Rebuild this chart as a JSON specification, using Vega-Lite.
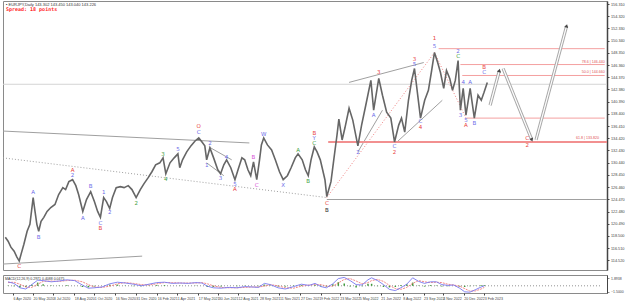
{
  "$schema": "https://vega.github.io/schema/vega-lite/v6.json",
  "padding": 0,
  "background": "white",
  "spacing": 3,
  "config": {
    "view": {"stroke": "#8a8a8a", "strokeWidth": 1},
    "font": "Liberation Sans",
    "axis": {"labelFont": "Liberation Sans"}
  },
  "datasets": {
    "price": [
      {"date": "2020-03-31", "price": 118.29}, {"date": "2020-04-06", "price": 117.64}, {"date": "2020-04-12", "price": 116.67},
      {"date": "2020-04-19", "price": 116.02}, {"date": "2020-04-25", "price": 115.05}, {"date": "2020-04-30", "price": 114.41},
      {"date": "2020-05-04", "price": 115.54}, {"date": "2020-05-10", "price": 117.16}, {"date": "2020-05-17", "price": 119.26},
      {"date": "2020-05-23", "price": 120.39}, {"date": "2020-05-30", "price": 124.76}, {"date": "2020-06-03", "price": 122.50},
      {"date": "2020-06-07", "price": 120.39}, {"date": "2020-06-11", "price": 119.26}, {"date": "2020-06-16", "price": 120.88},
      {"date": "2020-06-22", "price": 121.53}, {"date": "2020-06-29", "price": 122.50}, {"date": "2020-07-07", "price": 123.14},
      {"date": "2020-07-16", "price": 123.63}, {"date": "2020-07-24", "price": 125.25}, {"date": "2020-08-02", "price": 126.38},
      {"date": "2020-08-08", "price": 126.06}, {"date": "2020-08-15", "price": 127.35}, {"date": "2020-08-23", "price": 127.67},
      {"date": "2020-08-30", "price": 126.70}, {"date": "2020-09-05", "price": 125.25}, {"date": "2020-09-14", "price": 122.50},
      {"date": "2020-09-22", "price": 124.44}, {"date": "2020-10-01", "price": 125.73}, {"date": "2020-10-09", "price": 124.11},
      {"date": "2020-10-16", "price": 122.50}, {"date": "2020-10-22", "price": 121.53}, {"date": "2020-10-29", "price": 124.76},
      {"date": "2020-11-04", "price": 124.11}, {"date": "2020-11-11", "price": 122.98}, {"date": "2020-11-17", "price": 124.76},
      {"date": "2020-11-25", "price": 126.38}, {"date": "2020-12-04", "price": 126.54}, {"date": "2020-12-12", "price": 126.38},
      {"date": "2020-12-21", "price": 126.70}, {"date": "2020-12-29", "price": 126.06}, {"date": "2021-01-07", "price": 124.76},
      {"date": "2021-01-16", "price": 126.06}, {"date": "2021-01-24", "price": 127.03}, {"date": "2021-02-02", "price": 128.00},
      {"date": "2021-02-10", "price": 128.97}, {"date": "2021-02-18", "price": 130.10}, {"date": "2021-02-27", "price": 130.42},
      {"date": "2021-03-06", "price": 131.23}, {"date": "2021-03-12", "price": 128.64}, {"date": "2021-03-21", "price": 130.42},
      {"date": "2021-03-30", "price": 131.23}, {"date": "2021-04-07", "price": 131.88}, {"date": "2021-04-11", "price": 129.62},
      {"date": "2021-04-17", "price": 130.91}, {"date": "2021-04-26", "price": 132.20}, {"date": "2021-05-05", "price": 133.18},
      {"date": "2021-05-14", "price": 133.98}, {"date": "2021-05-22", "price": 134.47}, {"date": "2021-05-29", "price": 133.82},
      {"date": "2021-06-04", "price": 133.18}, {"date": "2021-06-08", "price": 130.91}, {"date": "2021-06-15", "price": 132.85},
      {"date": "2021-06-23", "price": 131.23}, {"date": "2021-07-02", "price": 129.29}, {"date": "2021-07-08", "price": 128.64},
      {"date": "2021-07-15", "price": 130.10}, {"date": "2021-07-21", "price": 130.91}, {"date": "2021-07-30", "price": 129.62},
      {"date": "2021-08-08", "price": 127.67}, {"date": "2021-08-16", "price": 129.62}, {"date": "2021-08-23", "price": 131.23},
      {"date": "2021-08-29", "price": 130.91}, {"date": "2021-09-05", "price": 129.29}, {"date": "2021-09-11", "price": 128.32},
      {"date": "2021-09-17", "price": 130.59}, {"date": "2021-09-24", "price": 127.67}, {"date": "2021-09-30", "price": 130.91},
      {"date": "2021-10-04", "price": 133.34}, {"date": "2021-10-09", "price": 134.47}, {"date": "2021-10-17", "price": 133.34},
      {"date": "2021-10-26", "price": 132.53}, {"date": "2021-11-03", "price": 130.91}, {"date": "2021-11-12", "price": 128.97},
      {"date": "2021-11-20", "price": 127.67}, {"date": "2021-11-29", "price": 128.32}, {"date": "2021-12-07", "price": 129.62},
      {"date": "2021-12-16", "price": 131.23}, {"date": "2021-12-22", "price": 131.88}, {"date": "2021-12-31", "price": 130.91},
      {"date": "2022-01-07", "price": 129.29}, {"date": "2022-01-13", "price": 128.32}, {"date": "2022-01-19", "price": 130.91},
      {"date": "2022-01-26", "price": 133.01}, {"date": "2022-02-01", "price": 132.20}, {"date": "2022-02-08", "price": 130.91},
      {"date": "2022-02-14", "price": 128.97}, {"date": "2022-02-18", "price": 127.67}, {"date": "2022-02-22", "price": 124.92},
      {"date": "2022-03-03", "price": 127.35}, {"date": "2022-03-09", "price": 130.91}, {"date": "2022-03-16", "price": 134.96},
      {"date": "2022-03-20", "price": 137.54}, {"date": "2022-03-27", "price": 134.15}, {"date": "2022-04-02", "price": 136.09},
      {"date": "2022-04-11", "price": 139.32}, {"date": "2022-04-19", "price": 137.38}, {"date": "2022-04-30", "price": 133.18},
      {"date": "2022-05-08", "price": 136.57}, {"date": "2022-05-17", "price": 139.81}, {"date": "2022-05-28", "price": 143.85},
      {"date": "2022-06-03", "price": 139.00}, {"date": "2022-06-14", "price": 144.18}, {"date": "2022-06-22", "price": 141.43},
      {"date": "2022-07-01", "price": 138.68}, {"date": "2022-07-10", "price": 137.71}, {"date": "2022-07-18", "price": 133.82},
      {"date": "2022-07-27", "price": 136.57}, {"date": "2022-08-02", "price": 137.71}, {"date": "2022-08-09", "price": 135.44},
      {"date": "2022-08-17", "price": 140.62}, {"date": "2022-08-24", "price": 143.85}, {"date": "2022-08-30", "price": 145.80},
      {"date": "2022-09-06", "price": 141.43}, {"date": "2022-09-12", "price": 137.71}, {"date": "2022-09-21", "price": 140.62},
      {"date": "2022-09-29", "price": 142.24}, {"date": "2022-10-06", "price": 145.47}, {"date": "2022-10-12", "price": 148.39},
      {"date": "2022-10-19", "price": 146.77}, {"date": "2022-10-25", "price": 145.15}, {"date": "2022-11-01", "price": 142.56},
      {"date": "2022-11-07", "price": 145.47}, {"date": "2022-11-14", "price": 144.18}, {"date": "2022-11-20", "price": 142.24},
      {"date": "2022-11-26", "price": 143.85}, {"date": "2022-12-02", "price": 147.09}, {"date": "2022-12-07", "price": 139.00},
      {"date": "2022-12-13", "price": 142.56}, {"date": "2022-12-19", "price": 138.19}, {"date": "2022-12-28", "price": 142.56},
      {"date": "2023-01-06", "price": 137.71}, {"date": "2023-01-14", "price": 141.43}, {"date": "2023-01-21", "price": 140.62},
      {"date": "2023-01-27", "price": 141.91}, {"date": "2023-02-03", "price": 143.53}
    ],
    "macd": [
      {"date": "2020-03-26", "main": 1.0, "signal": 0.8, "hist": 0.1}, {"date": "2020-04-08", "main": 0.6, "signal": 0.9, "hist": -0.1},
      {"date": "2020-04-21", "main": -0.5, "signal": 0.4, "hist": -0.4}, {"date": "2020-05-04", "main": -0.8, "signal": -0.3, "hist": -0.3},
      {"date": "2020-05-17", "main": 0.3, "signal": -0.4, "hist": 0.3}, {"date": "2020-05-30", "main": 1.4, "signal": 0.4, "hist": 0.8},
      {"date": "2020-06-11", "main": 1.3, "signal": 1.1, "hist": 0.4}, {"date": "2020-06-29", "main": 1.0, "signal": 1.2, "hist": 0.1},
      {"date": "2020-07-16", "main": 1.2, "signal": 1.1, "hist": 0.1}, {"date": "2020-08-02", "main": 1.5, "signal": 1.3, "hist": 0.2},
      {"date": "2020-08-19", "main": 1.3, "signal": 1.4, "hist": 0.0}, {"date": "2020-09-05", "main": 0.2, "signal": 1.0, "hist": -0.3},
      {"date": "2020-09-18", "main": -0.6, "signal": 0.3, "hist": -0.4}, {"date": "2020-10-01", "main": -0.5, "signal": -0.3, "hist": -0.2},
      {"date": "2020-10-18", "main": -0.3, "signal": -0.4, "hist": 0.0}, {"date": "2020-11-04", "main": 0.5, "signal": -0.1, "hist": 0.3},
      {"date": "2020-11-21", "main": 0.9, "signal": 0.5, "hist": 0.3}, {"date": "2020-12-08", "main": 0.7, "signal": 0.8, "hist": 0.1},
      {"date": "2020-12-26", "main": 0.4, "signal": 0.6, "hist": -0.1}, {"date": "2021-01-12", "main": 0.0, "signal": 0.3, "hist": -0.1},
      {"date": "2021-01-29", "main": 0.4, "signal": 0.2, "hist": 0.1}, {"date": "2021-02-15", "main": 0.8, "signal": 0.5, "hist": 0.2},
      {"date": "2021-03-04", "main": 0.9, "signal": 0.8, "hist": 0.2}, {"date": "2021-03-21", "main": 0.6, "signal": 0.8, "hist": 0.0},
      {"date": "2021-04-07", "main": 0.7, "signal": 0.7, "hist": 0.1}, {"date": "2021-04-25", "main": 0.6, "signal": 0.7, "hist": 0.0},
      {"date": "2021-05-12", "main": 0.8, "signal": 0.7, "hist": 0.1}, {"date": "2021-05-25", "main": 0.7, "signal": 0.8, "hist": 0.0},
      {"date": "2021-06-06", "main": -0.1, "signal": 0.5, "hist": -0.3}, {"date": "2021-06-19", "main": -0.5, "signal": 0.0, "hist": -0.3},
      {"date": "2021-07-06", "main": -0.6, "signal": -0.4, "hist": -0.2}, {"date": "2021-07-24", "main": -0.4, "signal": -0.5, "hist": 0.0},
      {"date": "2021-08-10", "main": -0.5, "signal": -0.5, "hist": -0.1}, {"date": "2021-08-27", "main": -0.2, "signal": -0.4, "hist": 0.1},
      {"date": "2021-09-13", "main": -0.3, "signal": -0.3, "hist": 0.0}, {"date": "2021-09-26", "main": -0.4, "signal": -0.3, "hist": -0.1},
      {"date": "2021-10-09", "main": 0.6, "signal": -0.1, "hist": 0.3}, {"date": "2021-10-22", "main": 0.3, "signal": 0.3, "hist": 0.1},
      {"date": "2021-11-08", "main": -0.5, "signal": 0.0, "hist": -0.2}, {"date": "2021-11-24", "main": -0.8, "signal": -0.5, "hist": -0.2},
      {"date": "2021-12-12", "main": -0.2, "signal": -0.6, "hist": 0.1}, {"date": "2021-12-29", "main": 0.4, "signal": -0.1, "hist": 0.2},
      {"date": "2022-01-15", "main": 0.1, "signal": 0.2, "hist": 0.0}, {"date": "2022-01-28", "main": 0.6, "signal": 0.3, "hist": 0.2},
      {"date": "2022-02-10", "main": -0.2, "signal": 0.3, "hist": -0.2}, {"date": "2022-02-22", "main": -0.5, "signal": -0.1, "hist": -0.2},
      {"date": "2022-03-08", "main": 0.5, "signal": -0.1, "hist": 0.4}, {"date": "2022-03-20", "main": 1.8, "signal": 0.7, "hist": 0.9},
      {"date": "2022-04-02", "main": 2.1, "signal": 1.6, "hist": 0.6}, {"date": "2022-04-15", "main": 1.3, "signal": 1.8, "hist": -0.2},
      {"date": "2022-04-28", "main": 0.3, "signal": 1.2, "hist": -0.4}, {"date": "2022-05-11", "main": 0.2, "signal": 0.5, "hist": -0.1},
      {"date": "2022-05-24", "main": 1.5, "signal": 0.8, "hist": 0.5}, {"date": "2022-06-01", "main": 2.0, "signal": 1.3, "hist": 0.5},
      {"date": "2022-06-14", "main": 1.3, "signal": 1.6, "hist": -0.1}, {"date": "2022-06-27", "main": 0.3, "signal": 1.1, "hist": -0.3},
      {"date": "2022-07-10", "main": -0.9, "signal": 0.1, "hist": -0.4}, {"date": "2022-07-23", "main": -1.2, "signal": -0.7, "hist": -0.3},
      {"date": "2022-08-04", "main": -0.5, "signal": -0.9, "hist": 0.2}, {"date": "2022-08-17", "main": 0.4, "signal": -0.4, "hist": 0.4},
      {"date": "2022-08-30", "main": 2.0, "signal": 0.6, "hist": 0.8}, {"date": "2022-09-12", "main": 1.1, "signal": 1.3, "hist": 0.1},
      {"date": "2022-09-25", "main": 0.6, "signal": 1.0, "hist": -0.2}, {"date": "2022-10-08", "main": 1.0, "signal": 0.8, "hist": 0.2},
      {"date": "2022-10-21", "main": 1.0, "signal": 0.9, "hist": 0.1}, {"date": "2022-11-02", "main": 0.3, "signal": 0.8, "hist": -0.2},
      {"date": "2022-11-15", "main": 0.1, "signal": 0.4, "hist": -0.1}, {"date": "2022-11-28", "main": 0.2, "signal": 0.2, "hist": 0.0},
      {"date": "2022-12-11", "main": -0.6, "signal": -0.1, "hist": -0.2}, {"date": "2022-12-22", "main": -1.5, "signal": -0.7, "hist": -0.3},
      {"date": "2023-01-02", "main": -1.6, "signal": -1.3, "hist": -0.1}, {"date": "2023-01-14", "main": -1.0, "signal": -1.3, "hist": 0.1},
      {"date": "2023-01-27", "main": -0.3, "signal": -0.8, "hist": 0.2}, {"date": "2023-02-03", "main": 0.0, "signal": -0.4, "hist": 0.2}
    ],
    "trend": [
      {"id": "t1", "date": "2020-03-26", "price": 135.60}, {"id": "t1", "date": "2021-09-08", "price": 133.66},
      {"id": "t3", "date": "2022-02-22", "price": 124.44}, {"id": "t3", "date": "2023-10-19", "price": 124.44},
      {"id": "t4", "date": "2020-03-26", "price": 113.92}, {"id": "t4", "date": "2021-01-20", "price": 115.21},
      {"id": "t5", "date": "2022-04-30", "price": 132.20}, {"id": "t5", "date": "2022-06-22", "price": 139.00},
      {"id": "t6", "date": "2022-07-21", "price": 133.66}, {"id": "t6", "date": "2022-10-29", "price": 140.62},
      {"id": "t7", "date": "2022-04-11", "price": 143.53}, {"id": "t7", "date": "2022-09-19", "price": 146.77},
      {"id": "t8", "date": "2021-06-13", "price": 133.01}, {"id": "t8", "date": "2021-08-01", "price": 130.91},
      {"id": "t9", "date": "2021-06-08", "price": 130.42}, {"id": "t9", "date": "2021-07-15", "price": 128.32}
    ],
    "dotted": [
      {"id": "d1", "date": "2020-03-26", "price": 131.23}, {"id": "d1", "date": "2022-02-22", "price": 124.76}
    ],
    "reddot": [
      {"id": "r1", "date": "2022-02-22", "price": 124.76}, {"id": "r1", "date": "2022-10-12", "price": 148.39},
      {"id": "r2", "date": "2022-10-12", "price": 148.39}, {"id": "r2", "date": "2022-12-19", "price": 137.71}
    ],
    "fib": [
      {"date": "2022-10-21", "end": "2023-10-14", "price": 149.03, "label": ""},
      {"date": "2022-12-07", "end": "2023-10-14", "price": 146.44, "label": "78.6 | 146.440"},
      {"date": "2022-12-11", "end": "2023-10-14", "price": 144.66, "label": "50.0 | 144.660"},
      {"date": "2022-12-20", "end": "2023-10-14", "price": 137.71, "label": ""}
    ],
    "fibmain": [
      {"date": "2022-02-25", "end": "2023-10-19", "price": 133.82, "label": "61.8 | 133.820"}
    ],
    "proj": [
      {"seg": "p1", "date": "2023-02-09", "price": 139.81}, {"seg": "p1", "date": "2023-03-01", "price": 145.47},
      {"seg": "p2", "date": "2023-03-09", "price": 145.80}, {"seg": "p2", "date": "2023-05-10", "price": 134.15},
      {"seg": "p3", "date": "2023-05-19", "price": 134.15}, {"seg": "p3", "date": "2023-07-24", "price": 152.75}
    ],
    "heads": [
      {"seg": "p1", "date": "2023-03-01", "price": 145.47},
      {"seg": "p2", "date": "2023-05-10", "price": 134.15},
      {"seg": "p3", "date": "2023-07-24", "price": 152.75}
    ],
    "waves": [
      {"label": "C", "deg": "primary", "date": "2020-04-30", "price": 113.55},
      {"label": "A", "deg": "intermediate", "date": "2020-05-30", "price": 125.73},
      {"label": "B", "deg": "intermediate", "date": "2020-06-11", "price": 118.29},
      {"label": "2", "deg": "intermediate", "date": "2020-08-23", "price": 128.48},
      {"label": "A", "deg": "primary", "date": "2020-08-23", "price": 129.29},
      {"label": "A", "deg": "intermediate", "date": "2020-09-14", "price": 121.36},
      {"label": "B", "deg": "intermediate", "date": "2020-10-01", "price": 126.70},
      {"label": "C", "deg": "intermediate", "date": "2020-10-22", "price": 120.55},
      {"label": "B", "deg": "primary", "date": "2020-10-22", "price": 119.75},
      {"label": "1", "deg": "intermediate", "date": "2020-10-29", "price": 125.73},
      {"label": "2", "deg": "intermediate", "date": "2020-11-11", "price": 122.33},
      {"label": "2", "deg": "minor", "date": "2021-01-07", "price": 123.95},
      {"label": "3", "deg": "minor", "date": "2021-03-06", "price": 131.90},
      {"label": "4", "deg": "minor", "date": "2021-03-12", "price": 127.85},
      {"label": "5", "deg": "intermediate", "date": "2021-04-07", "price": 132.70},
      {"label": "O", "deg": "primary", "date": "2021-05-22", "price": 136.41},
      {"label": "C", "deg": "intermediate", "date": "2021-05-22", "price": 135.44},
      {"label": "1", "deg": "intermediate", "date": "2021-06-08", "price": 130.10},
      {"label": "2", "deg": "intermediate", "date": "2021-06-15", "price": 133.66},
      {"label": "3", "deg": "intermediate", "date": "2021-07-08", "price": 128.00},
      {"label": "4", "deg": "intermediate", "date": "2021-07-21", "price": 131.40},
      {"label": "5", "deg": "intermediate", "date": "2021-08-08", "price": 127.03},
      {"label": "A", "deg": "primary", "date": "2021-08-08", "price": 126.22},
      {"label": "B", "deg": "minute", "date": "2021-09-17", "price": 131.40},
      {"label": "C", "deg": "minute", "date": "2021-09-24", "price": 126.87},
      {"label": "W", "deg": "intermediate", "date": "2021-10-09", "price": 135.12},
      {"label": "X", "deg": "intermediate", "date": "2021-11-20", "price": 126.87},
      {"label": "A", "deg": "minor", "date": "2021-12-22", "price": 132.53},
      {"label": "B", "deg": "minor", "date": "2022-01-13", "price": 127.51},
      {"label": "C", "deg": "minor", "date": "2022-01-26", "price": 133.66},
      {"label": "Y", "deg": "intermediate", "date": "2022-01-26", "price": 134.47},
      {"label": "B", "deg": "primary", "date": "2022-01-26", "price": 135.28},
      {"label": "C", "deg": "primary", "date": "2022-02-22", "price": 123.95},
      {"label": "B", "deg": "cycle", "date": "2022-02-22", "price": 122.70},
      {"label": "2", "deg": "intermediate", "date": "2022-04-30", "price": 132.20},
      {"label": "A", "deg": "intermediate", "date": "2022-06-03", "price": 138.19},
      {"label": "3", "deg": "primary", "date": "2022-06-14", "price": 145.15},
      {"label": "C", "deg": "intermediate", "date": "2022-07-18", "price": 133.18},
      {"label": "2", "deg": "primary", "date": "2022-07-18", "price": 132.20},
      {"label": "3", "deg": "primary", "date": "2022-08-30", "price": 147.41},
      {"label": "5", "deg": "intermediate", "date": "2022-08-30", "price": 146.60},
      {"label": "C", "deg": "intermediate", "date": "2022-09-12", "price": 137.22},
      {"label": "4", "deg": "primary", "date": "2022-09-12", "price": 136.25},
      {"label": "1", "deg": "primary", "date": "2022-10-12", "price": 150.81},
      {"label": "5", "deg": "intermediate", "date": "2022-10-12", "price": 149.52},
      {"label": "2", "deg": "intermediate", "date": "2022-12-02", "price": 148.71},
      {"label": "C", "deg": "minor", "date": "2022-12-02", "price": 147.90},
      {"label": "3", "deg": "intermediate", "date": "2022-12-07", "price": 138.19},
      {"label": "4", "deg": "intermediate", "date": "2022-12-13", "price": 143.53},
      {"label": "5", "deg": "intermediate", "date": "2022-12-19", "price": 137.38},
      {"label": "A", "deg": "primary", "date": "2022-12-19", "price": 136.57},
      {"label": "A", "deg": "intermediate", "date": "2022-12-28", "price": 143.53},
      {"label": "B", "deg": "intermediate", "date": "2023-01-06", "price": 136.90},
      {"label": "B", "deg": "primary", "date": "2023-01-27", "price": 146.12},
      {"label": "C", "deg": "intermediate", "date": "2023-01-27", "price": 145.15},
      {"label": "C", "deg": "primary", "date": "2023-04-30", "price": 134.40},
      {"label": "2", "deg": "primary", "date": "2023-04-30", "price": 133.25}
    ]
  },
  "vconcat": [
    {
      "width": 604,
      "height": 269,
      "title": {
        "text": "▪ EURJPY,Daily  143.302 143.450 143.040 143.226",
        "subtitle": "Spread: 18 points",
        "anchor": "start",
        "frame": "group",
        "offset": -11,
        "dx": 3,
        "font": "Liberation Sans",
        "fontSize": 4,
        "fontWeight": "normal",
        "color": "#333333",
        "subtitleFont": "DejaVu Sans Mono",
        "subtitleFontSize": 5,
        "subtitleFontWeight": "bold",
        "subtitleColor": "#ff2a2a",
        "subtitlePadding": 0.5
      },
      "encoding": {
        "x": {
          "field": "date", "type": "temporal",
          "scale": {"type": "utc", "domain": [{"year": 2020, "month": 3, "date": 26, "utc": true}, {"year": 2023, "month": 10, "date": 19, "utc": true}]},
          "axis": null
        },
        "y": {
          "field": "price", "type": "quantitative",
          "scale": {"domain": [112.95, 156.8], "nice": false, "zero": false},
          "axis": {
            "orient": "right", "title": null, "grid": false, "format": ".3f",
            "values": [156.31, 154.32, 152.33, 150.34, 148.35, 146.36, 144.37, 142.38, 140.39, 138.4, 136.41, 134.42, 132.43, 130.44, 128.45, 126.46, 124.47, 122.48, 120.49, 118.5, 116.51, 114.52],
            "labelFontSize": 3.8, "labelColor": "#444444", "tickSize": 2, "tickColor": "#444444",
            "labelPadding": 1.5, "domainColor": "#444444", "domainWidth": 1.5
          }
        }
      },
      "layer": [
        {
          "data": {"values": [{"date": "2020-03-26", "end": "2023-10-19", "price": 143.226}]},
          "mark": {"type": "rule", "color": "#d4d4d4", "strokeWidth": 1},
          "encoding": {"x2": {"field": "end"}}
        },
        {
          "data": {"name": "trend"},
          "mark": {"type": "line", "color": "#a0a0a0", "strokeWidth": 1},
          "encoding": {"detail": {"field": "id"}}
        },
        {
          "data": {"name": "dotted"},
          "mark": {"type": "line", "color": "#a0a0a0", "strokeWidth": 1, "strokeDash": [1, 2]},
          "encoding": {"detail": {"field": "id"}}
        },
        {
          "data": {"name": "reddot"},
          "mark": {"type": "line", "color": "#f08080", "strokeWidth": 1, "strokeDash": [1, 2]},
          "encoding": {"detail": {"field": "id"}}
        },
        {
          "data": {"name": "fib"},
          "mark": {"type": "rule", "color": "#f4a0a0", "strokeWidth": 1},
          "encoding": {"x2": {"field": "end"}}
        },
        {
          "data": {"name": "fibmain"},
          "mark": {"type": "rule", "color": "#f29090", "strokeWidth": 2},
          "encoding": {"x2": {"field": "end"}}
        },
        {
          "data": {"name": "fib"},
          "mark": {"type": "text", "color": "#e05050", "fontSize": 3.6, "align": "right", "baseline": "bottom", "dy": -1},
          "encoding": {"x": {"field": "end", "type": "temporal"}, "text": {"field": "label"}}
        },
        {
          "data": {"name": "fibmain"},
          "mark": {"type": "text", "color": "#e05050", "fontSize": 3.6, "align": "right", "baseline": "bottom", "dy": -2, "dx": -8},
          "encoding": {"x": {"field": "end", "type": "temporal"}, "text": {"field": "label"}}
        },
        {
          "data": {"name": "price"},
          "mark": {"type": "line", "color": "#666666", "strokeWidth": 1.6}
        },
        {
          "data": {"name": "proj"},
          "mark": {"type": "line", "color": "#a8a8a8", "strokeWidth": 3.2},
          "encoding": {"detail": {"field": "seg"}}
        },
        {
          "data": {"name": "proj"},
          "mark": {"type": "line", "color": "#ffffff", "strokeWidth": 1.2},
          "encoding": {"detail": {"field": "seg"}}
        },
        {
          "data": {"name": "heads"},
          "transform": [{"filter": "datum.seg != 'p2'"}],
          "mark": {"type": "point", "shape": "triangle-up", "filled": true, "color": "#444444", "size": 16, "angle": 15, "opacity": 1}
        },
        {
          "data": {"name": "heads"},
          "transform": [{"filter": "datum.seg == 'p2'"}],
          "mark": {"type": "point", "shape": "triangle-up", "filled": true, "color": "#444444", "size": 16, "angle": 158, "opacity": 1}
        },
        {
          "data": {"name": "waves"},
          "mark": {"type": "text", "fontSize": 5.5, "baseline": "middle", "font": "DejaVu Sans"},
          "encoding": {
            "text": {"field": "label"},
            "color": {
              "field": "deg", "type": "nominal", "legend": null,
              "scale": {"domain": ["primary", "intermediate", "minor", "minute", "cycle"], "range": ["#e8403a", "#6a6ae8", "#3c9e3c", "#d64fd6", "#222222"]}
            }
          }
        },
        {
          "data": {"values": [{"price": 143.226}]},
          "mark": {"type": "tick", "orient": "horizontal", "color": "#000000", "thickness": 6, "size": 14, "xOffset": 9.5},
          "encoding": {"x": {"datum": {"year": 2023, "month": 10, "date": 19, "utc": true}, "type": "temporal"}}
        },
        {
          "data": {"values": [{"price": 143.226, "label": "143.226"}]},
          "mark": {"type": "text", "color": "#ffffff", "fontSize": 3.8, "align": "center", "baseline": "middle", "xOffset": 9.5},
          "encoding": {"x": {"datum": {"year": 2023, "month": 10, "date": 19, "utc": true}, "type": "temporal"}, "text": {"field": "label"}}
        }
      ]
    },
    {
      "width": 604,
      "height": 18,
      "title": {
        "text": "MACD(12,26,9) 0.2971 0.4088 0.0475",
        "anchor": "start", "frame": "group", "offset": -5, "dx": 2,
        "font": "Liberation Sans", "fontSize": 3.5, "fontWeight": "normal", "color": "#333333"
      },
      "encoding": {
        "x": {
          "field": "date", "type": "temporal",
          "scale": {"type": "utc", "domain": [{"year": 2020, "month": 3, "date": 26, "utc": true}, {"year": 2023, "month": 10, "date": 19, "utc": true}]},
          "axis": {
            "title": null, "grid": false, "format": "%-d %b %Y",
            "values": [
              {"year": 2020, "month": 4, "date": 6, "utc": true}, {"year": 2020, "month": 5, "date": 20, "utc": true},
              {"year": 2020, "month": 7, "date": 3, "utc": true}, {"year": 2020, "month": 8, "date": 18, "utc": true},
              {"year": 2020, "month": 10, "date": 1, "utc": true}, {"year": 2020, "month": 11, "date": 16, "utc": true},
              {"year": 2020, "month": 12, "date": 31, "utc": true}, {"year": 2021, "month": 2, "date": 16, "utc": true},
              {"year": 2021, "month": 4, "date": 1, "utc": true}, {"year": 2021, "month": 5, "date": 17, "utc": true},
              {"year": 2021, "month": 6, "date": 30, "utc": true}, {"year": 2021, "month": 8, "date": 12, "utc": true},
              {"year": 2021, "month": 9, "date": 28, "utc": true}, {"year": 2021, "month": 11, "date": 11, "utc": true},
              {"year": 2021, "month": 12, "date": 27, "utc": true}, {"year": 2022, "month": 2, "date": 9, "utc": true},
              {"year": 2022, "month": 3, "date": 23, "utc": true}, {"year": 2022, "month": 5, "date": 5, "utc": true},
              {"year": 2022, "month": 6, "date": 21, "utc": true}, {"year": 2022, "month": 8, "date": 8, "utc": true},
              {"year": 2022, "month": 9, "date": 23, "utc": true}, {"year": 2022, "month": 11, "date": 4, "utc": true},
              {"year": 2022, "month": 12, "date": 20, "utc": true}, {"year": 2023, "month": 2, "date": 3, "utc": true}
            ],
            "labelFontSize": 3.6, "labelColor": "#444444", "labelAlign": "left", "labelPadding": 1,
            "tickSize": 2, "tickColor": "#444444", "domain": false, "labelOverlap": false, "labelFlush": false
          }
        }
      },
      "layer": [
        {
          "data": {"values": [{"date": "2020-03-26", "end": "2023-10-19"}]},
          "mark": {"type": "rule", "color": "#777777", "strokeWidth": 0.8, "strokeDash": [1, 2]},
          "encoding": {"x2": {"field": "end"}, "y": {"datum": 0, "type": "quantitative"}}
        },
        {
          "data": {"name": "macd"},
          "mark": {"type": "bar", "color": "#3e9a3a", "size": 1.5},
          "encoding": {
            "y": {
              "field": "hist", "type": "quantitative",
              "scale": {"domain": [-1.8, 2.7], "nice": false, "zero": false},
              "axis": {
                "orient": "right", "title": null, "grid": false, "values": [-1.5, 0, 1.8938],
                "labelExpr": "datum.value == 0 ? '0.00' : format(datum.value, '.4f')",
                "labelFontSize": 3.5, "labelColor": "#444444", "tickSize": 2, "labelPadding": 1.5,
                "domainColor": "#444444"
              }
            }
          }
        },
        {
          "data": {"name": "macd"},
          "mark": {"type": "line", "color": "#f07a7a", "strokeWidth": 0.9, "strokeDash": [2, 1]},
          "encoding": {"y": {"field": "signal", "type": "quantitative"}}
        },
        {
          "data": {"name": "macd"},
          "mark": {"type": "line", "color": "#7878f0", "strokeWidth": 0.9},
          "encoding": {"y": {"field": "main", "type": "quantitative"}}
        }
      ]
    }
  ]
}
